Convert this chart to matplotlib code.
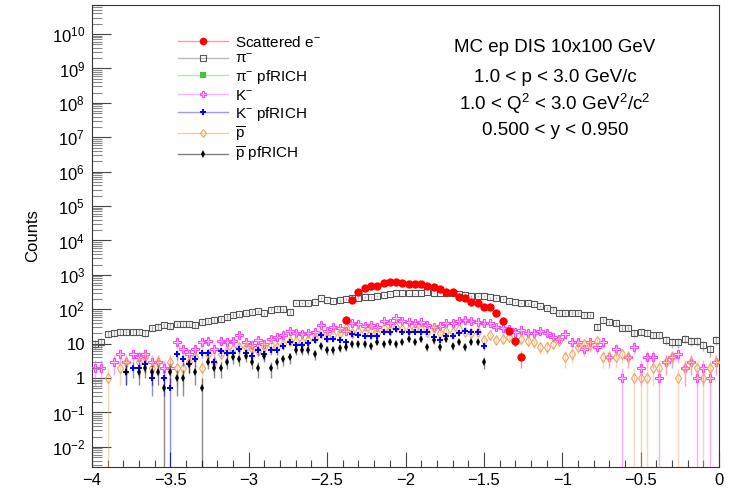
import numpy as np
import matplotlib
matplotlib.use('Agg')
import matplotlib.pyplot as plt
from matplotlib.lines import Line2D
from matplotlib.ticker import FixedLocator, LogLocator, FuncFormatter, MultipleLocator, NullFormatter

plt.rcParams['font.family'] = ['Liberation Sans', 'DejaVu Sans']
plt.rcParams['mathtext.fontset'] = 'custom'
plt.rcParams['mathtext.rm'] = 'Liberation Sans'
plt.rcParams['mathtext.it'] = 'Liberation Sans:italic'
plt.rcParams['mathtext.bf'] = 'Liberation Sans:bold'

# binning: 100 bins in [-4, 0]
nbins = 100
xlo, xhi = -4.0, 0.0
bin_width = (xhi - xlo) / nbins
bin_centers = xlo + bin_width * (np.arange(nbins) + 0.5)

# scattered electron, bins 40..68
electron_first_bin = 40
electron_counts = [49, 185, 316, 415, 480, 480, 590, 630, 630, 600,
                   540, 540, 540, 480, 450, 390, 320, 310, 225, 215,
                   166, 150, 118, 118, 79, 46, 23, 12, 4]

pion_counts = [10, 11, 19, 20, 22, 22, 22, 22, 20, 28,
               31, 35, 33, 37, 37, 37, 35, 43, 46, 48,
               52, 60, 68, 72, 76, 84, 88, 77, 98, 105,
               100, 84, 155, 150, 150, 166, 207, 190, 175, 180,
               200, 210, 215, 225, 225, 240, 260, 280, 305, 290,
               290, 290, 305, 310, 290, 290, 290, 290, 275, 260,
               250, 250, 240, 220, 210, 200, 170, 160, 150, 148,
               140, 125, 106, 98, 78, 79, 79, 79, 68, 68,
               31, 50, 43, 39, 28, 28, 20, 22, 21, 18,
               18, 13, 11, 11, 14, 12, 12, 9, 6.8, 13]

pion_rich_counts = [0] * nbins

kaon_counts = [2, 2, 0, 3, 5, 3, 5, 4, 5, 3,
               3, 2, 2, 11, 7, 5, 7, 11, 12, 7,
               12, 11, 12, 18, 11, 9, 13, 10, 14, 16,
               18, 23, 20, 19, 21, 22, 36, 24, 31, 28,
               24, 39, 37, 33, 35, 30, 45, 40, 54, 46,
               43, 40, 43, 35, 31, 32, 39, 39, 46, 48,
               46, 43, 39, 39, 31, 28, 26, 22, 25, 21,
               20, 23, 20, 16, 14, 19, 11, 11, 7, 11,
               8, 11, 4, 7, 1, 4, 8, 2, 4, 4,
               1, 3, 4, 5, 2, 3, 1, 2, 1, 3]

kaon_rich_counts = [0, 0, 0, 0, 0, 1.5, 2, 2, 2.5, 1,
                    0, 1, 0.5, 5, 3.5, 2.5, 3.5, 5.5, 5.5, 3,
                    6, 5.5, 5.5, 7, 5.5, 4.5, 6.5, 5, 6.5, 6.5,
                    8.5, 11.5, 9, 9, 10.5, 13, 18, 14, 14, 13,
                    11.5, 19, 17.5, 16.5, 17, 16.5, 22, 21.5, 26, 22,
                    22, 22, 22.5, 22, 16, 13, 16.5, 17, 20, 24,
                    22, 22, 8.5, 0, 0, 0, 0, 0, 0, 0,
                    0, 0, 0, 0, 0, 0, 0, 0, 0, 0,
                    0, 0, 0, 0, 0, 0, 0, 0, 0, 0,
                    0, 0, 0, 0, 0, 0, 0, 0, 0, 0]

pbar_counts = [0, 0, 1, 0, 2, 3, 0, 3, 4, 2,
               3, 0, 3, 2, 2, 3, 4, 2, 5, 3,
               5, 6, 7, 8, 8, 7, 6, 8, 9, 8,
               10, 12, 12, 11, 13, 15, 20, 16, 18, 20,
               28, 20, 24, 22, 25, 20, 28, 25, 30, 26,
               25, 28, 26, 22, 28, 20, 24, 22, 26, 22,
               20, 22, 13, 18, 13, 14, 16, 12, 14, 12,
               11, 8, 8, 10, 12, 4, 5, 8, 10, 9,
               12, 4, 4, 4, 5, 4, 1, 1, 1, 2,
               2, 3, 4, 1, 2, 3, 2, 1, 2, 3]

pbar_rich_counts = [0, 0, 0, 0, 0, 1.5, 0, 1.5, 2, 1.5,
                    1.5, 0.5, 1.5, 1, 1, 2.5, 1.5, 0.5, 3, 2,
                    2, 3, 4, 3.5, 4.5, 3, 2, 4.5, 2, 3,
                    3.5, 4, 6.5, 6.5, 6.5, 5, 8.5, 6.5, 6.5, 7.5,
                    8, 9.5, 9.5, 9.5, 8.5, 11.5, 9.5, 11.5, 9.5, 11.5,
                    14, 11.5, 14, 8, 12.5, 8, 14, 8.5, 11.5, 8,
                    11.5, 11.5, 3, 0, 0, 0, 0, 0, 0, 0,
                    0, 0, 0, 0, 0, 0, 0, 0, 0, 0,
                    0, 0, 0, 0, 0, 0, 0, 0, 0, 0,
                    0, 0, 0, 0, 0, 0, 0, 0, 0, 0]

electron_x = bin_centers[electron_first_bin:electron_first_bin + len(electron_counts)]

y_decades = np.arange(-2, 11)


def draw_hist(ax, x, counts, weight, color, marker, ms, filled, mew, z):
    x = np.asarray(x)
    y = np.asarray(counts, dtype=float)
    keep = y > 0
    x, y = x[keep], y[keep]
    if len(y) == 0:
        return
    err = np.sqrt(weight * y)
    lower = np.minimum(err, y - 1e-4)
    ax.errorbar(x, y, yerr=[lower, err], fmt='none', ecolor=(color, 0.45),
                elinewidth=1.0, zorder=z)
    ax.plot(x, y, ls='none', marker=marker, ms=ms,
            mfc=color if filled else 'none', mec=color, mew=mew, zorder=z + 0.1)


fig = plt.figure(figsize=(7.38, 4.95), dpi=100)
ax = fig.add_axes([92 / 738, 28 / 495, 627 / 738, 462 / 495])

red = '#ff0000'
grey = '#555555'
green = '#33cc33'
magenta = '#ff44ff'
blue = '#0000ff'
orange = '#f0a560'
black = '#000000'

draw_hist(ax, bin_centers, pion_counts, 1.0, grey, 's', 4.6, False, 0.8, 2)
draw_hist(ax, bin_centers, pion_rich_counts, 0.5, green, 's', 4.5, True, 0, 3)
draw_hist(ax, bin_centers, kaon_counts, 1.0, magenta, 'P', 5.5, False, 0.8, 4)
draw_hist(ax, bin_centers, pbar_counts, 1.0, orange, 'd', 5.3, False, 0.8, 5)
draw_hist(ax, bin_centers, kaon_rich_counts, 0.5, blue, 'P', 4.8, True, 0, 6)
draw_hist(ax, bin_centers, pbar_rich_counts, 0.5, black, 'd', 4.2, True, 0, 7)
draw_hist(ax, electron_x, electron_counts, 1.0, red, 'o', 6, True, 0, 8)

ax.set_xlim(xlo, xhi)
ax.set_yscale('log')
ax.set_ylim(2.6e-3, 7e10)

ax.xaxis.set_major_locator(MultipleLocator(0.5))
ax.xaxis.set_minor_locator(MultipleLocator(0.1))
ax.xaxis.set_major_formatter(FuncFormatter(lambda v, p: ('%g' % v).replace('-', '\u2212')))
ax.yaxis.set_major_locator(FixedLocator(10.0 ** y_decades))
ax.yaxis.set_minor_locator(LogLocator(base=10, subs=np.arange(2, 10), numticks=30))
ax.yaxis.set_minor_formatter(NullFormatter())


def ylab(v, p):
    n = int(round(np.log10(v)))
    if n == 0:
        return '1'
    if n == 1:
        return '10'
    return r'$10^{%d}$' % n


ax.yaxis.set_major_formatter(FuncFormatter(ylab))
ax.tick_params(axis='x', which='major', direction='in', length=10.8, width=0.8,
               labelsize=12, pad=4, top=False, color='#444444')
ax.tick_params(axis='x', which='minor', direction='in', length=5.4, width=0.8,
               top=False, color='#444444')
ax.tick_params(axis='y', which='major', direction='in', length=13.5, width=0.8,
               labelsize=12, pad=5, right=False, color='#444444')
ax.tick_params(axis='y', which='minor', direction='in', length=7, width=0.8,
               right=False, color='#888888')
for s in ax.spines.values():
    s.set_linewidth(0.8)
    s.set_color('#333333')

ax.set_ylabel('Counts', fontsize=12, labelpad=8)

# legend (ROOT style: line through marker)
handles = [
    Line2D([], [], color=(red, 0.4), lw=1, marker='o', ms=5.5, mfc=red, mec=red, mew=0),
    Line2D([], [], color=(grey, 0.4), lw=1, marker='s', ms=4.2, mfc='none', mec=grey, mew=0.8),
    Line2D([], [], color=(green, 0.4), lw=1, marker='s', ms=4.5, mfc=green, mec=green, mew=0),
    Line2D([], [], color=(magenta, 0.4), lw=1, marker='P', ms=5, mfc='none', mec=magenta, mew=0.8),
    Line2D([], [], color=(blue, 0.4), lw=1, marker='P', ms=4.8, mfc=blue, mec=blue, mew=0),
    Line2D([], [], color=(orange, 0.6), lw=1, marker='d', ms=4.5, mfc='none', mec=orange, mew=0.8),
    Line2D([], [], color=(black, 0.5), lw=1, marker='d', ms=4, mfc=black, mec=black, mew=0),
]
labels = ['Scattered e$^{-}$', '\u03c0$^{-}$', '\u03c0$^{-}$ pfRICH', 'K$^{-}$',
          'K$^{-}$ pfRICH', r'$\overline{\mathrm{p}}$', r'$\overline{\mathrm{p}}$ pfRICH']
fig.legend(handles, labels, loc='upper left', bbox_to_anchor=(178 / 738, 1 - 35 / 495),
           frameon=False, fontsize=11, handlelength=3.3, handletextpad=0.45,
           labelspacing=0.12, borderpad=0, borderaxespad=0, handleheight=0.9)

info = ['MC ep DIS 10x100 GeV',
        '1.0 < p < 3.0 GeV/c',
        '1.0 < Q$^{2}$ < 3.0 GeV$^{2}$/c$^{2}$',
        '0.500 < y < 0.950']
info_y = [47, 77, 104, 131]
for s, yy in zip(info, info_y):
    fig.text(555 / 738, 1 - yy / 495, s, ha='center', va='center', fontsize=13.5)

fig.savefig('out.png', dpi=100)
